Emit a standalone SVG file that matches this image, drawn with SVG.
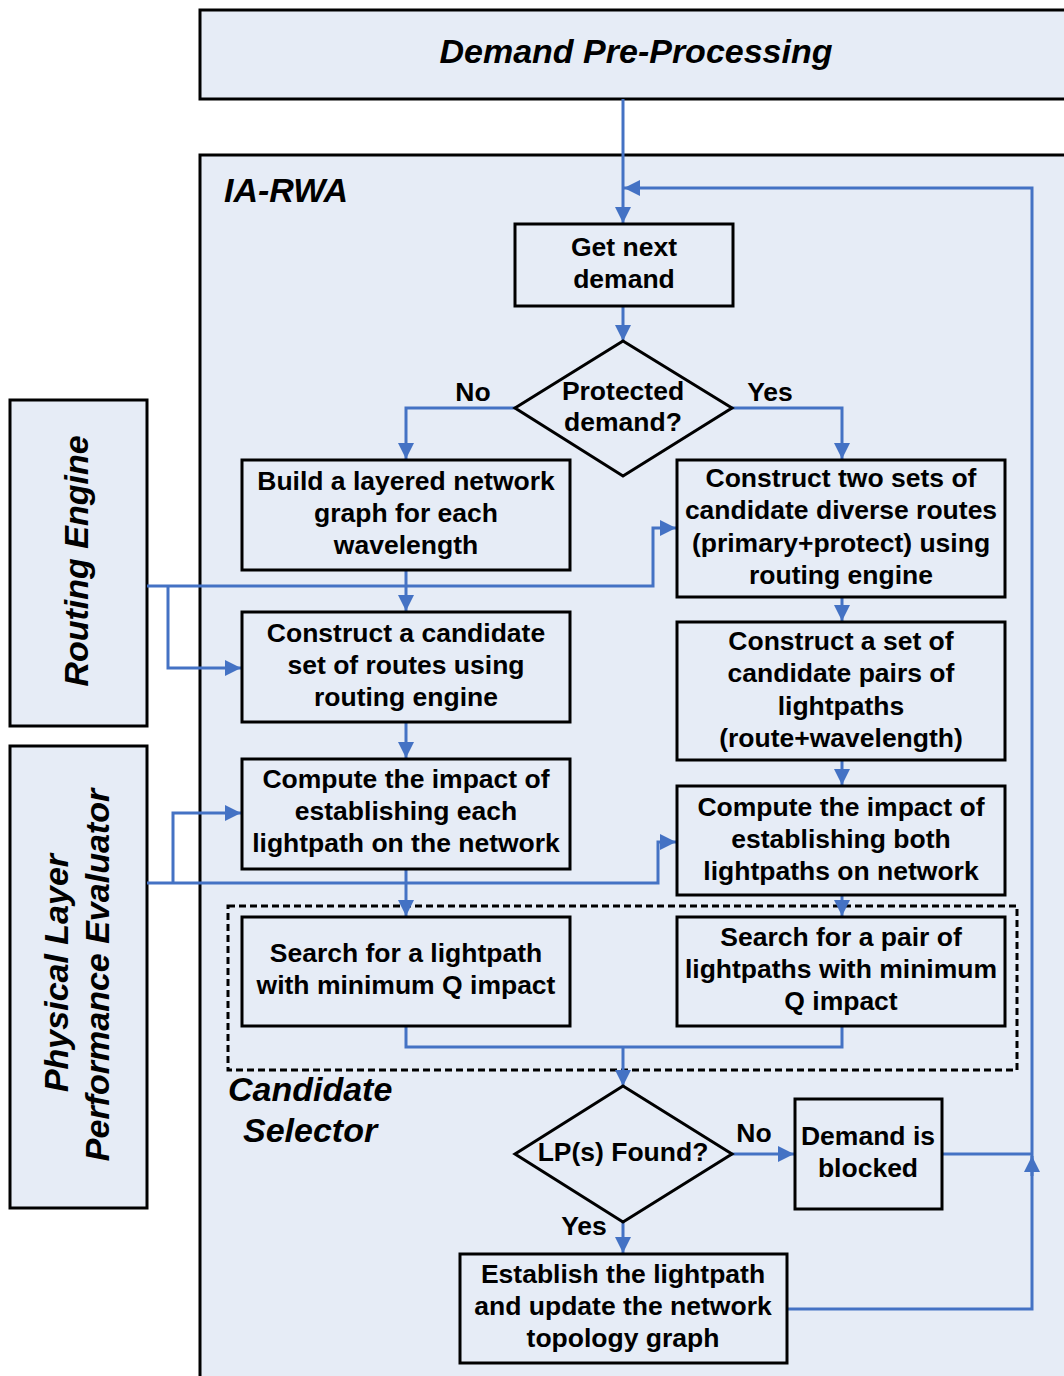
<svg xmlns="http://www.w3.org/2000/svg" width="1064" height="1376" viewBox="0 0 1064 1376">
<style>
.box{fill:#e6ecf6;stroke:#000;stroke-width:3}
.t{font-family:"Liberation Sans",Arial,sans-serif;font-weight:bold;font-size:26.5px;fill:#000;text-anchor:middle}
.ti{font-family:"Liberation Sans",Arial,sans-serif;font-weight:bold;font-style:italic;font-size:34px;fill:#000}
.c{fill:none;stroke:#4472c4;stroke-width:3}
.a{marker-end:url(#arr)}
</style>
<defs>
<marker id="arr" markerUnits="userSpaceOnUse" viewBox="0 0 16 16" refX="16" refY="8" markerWidth="16" markerHeight="16" orient="auto">
<path d="M0,0 L16,8 L0,16 Z" fill="#4472c4"/>
</marker>
</defs>
<rect width="1064" height="1376" fill="#fff"/>

<g id="preprocessing">
<rect class="box" x="200" y="10" width="900" height="89"/>
<text class="ti" x="636" y="63" text-anchor="middle">Demand Pre-Processing</text>
</g>
<g id="iarwa">
<rect class="box" x="200" y="155" width="900" height="1250"/>
<text class="ti" x="224" y="202">IA-RWA</text>
</g>
<g id="routing-engine">
<rect class="box" x="10" y="400" width="137" height="326"/>
<text class="ti" text-anchor="middle" transform="translate(88,561) rotate(-90)">Routing Engine</text>
</g>
<g id="physical-layer">
<rect class="box" x="10" y="746" width="137" height="462"/>
<text class="ti" text-anchor="middle" transform="translate(68,973) rotate(-90)">Physical Layer</text>
<text class="ti" text-anchor="middle" transform="translate(109,975) rotate(-90)">Performance Evaluator</text>
</g>
<g id="candidate-selector">
<rect x="228" y="906" width="789" height="164" fill="none" stroke="#000" stroke-width="3" stroke-dasharray="7,4"/>
<text class="ti" x="228" y="1101">Candidate</text>
<text class="ti" x="243" y="1142">Selector</text>
</g>

<g id="connectors">
<path class="c a" d="M623,99 V223"/>
<path class="c" d="M787,1309 H1032 V1172"/>
<path class="c a" d="M1032,1176 V1156"/>
<path class="c" d="M943,1154 H1032"/>
<path class="c a" d="M1032,1160 V188 H624"/>
<path class="c a" d="M623,306 V341"/>
<path class="c a" d="M515,408 H406 V459"/>
<path class="c a" d="M732,408 H842 V459"/>
<path class="c a" d="M406,570 V611"/>
<path class="c a" d="M842,597 V621"/>
<path class="c a" d="M147,586 H653 V528 H676"/>
<path class="c a" d="M168,586 V668 H241"/>
<path class="c a" d="M406,722 V758"/>
<path class="c a" d="M842,760 V785"/>
<path class="c a" d="M147,883 H658 V842 H676"/>
<path class="c a" d="M173,883 V813 H241"/>
<path class="c a" d="M406,869 V916"/>
<path class="c a" d="M842,895 V916"/>
<path class="c" d="M406,1026 V1047 H842 V1026"/>
<path class="c a" d="M623,1047 V1086"/>
<path class="c a" d="M732,1154 H794"/>
<path class="c a" d="M623,1222 V1253"/>
<text class="t" x="473" y="401">No</text>
<text class="t" x="770" y="401">Yes</text>
<text class="t" x="754" y="1142">No</text>
<text class="t" x="584" y="1235">Yes</text>
</g>

<g id="get-next-demand">
<rect class="box" x="515" y="224" width="218" height="82"/>
<text class="t" x="624" y="256">Get next</text>
<text class="t" x="624" y="288">demand</text>
</g>
<g id="protected-demand">
<polygon class="box" points="623,341 732,408 623,476 515,408"/>
<text class="t" x="623" y="400">Protected</text>
<text class="t" x="623" y="431">demand?</text>
</g>
<g id="build-layered">
<rect class="box" x="242" y="460" width="328" height="110"/>
<text class="t" x="406" y="490">Build a layered network</text>
<text class="t" x="406" y="522">graph for each</text>
<text class="t" x="406" y="554">wavelength</text>
</g>
<g id="construct-two-sets">
<rect class="box" x="677" y="460" width="328" height="137"/>
<text class="t" x="841" y="487">Construct two sets of</text>
<text class="t" x="841" y="519">candidate diverse routes</text>
<text class="t" x="841" y="552">(primary+protect) using</text>
<text class="t" x="841" y="584">routing engine</text>
</g>
<g id="construct-candidate">
<rect class="box" x="242" y="612" width="328" height="110"/>
<text class="t" x="406" y="642">Construct a candidate</text>
<text class="t" x="406" y="674">set of routes using</text>
<text class="t" x="406" y="706">routing engine</text>
</g>
<g id="construct-pairs">
<rect class="box" x="677" y="622" width="328" height="138"/>
<text class="t" x="841" y="650">Construct a set of</text>
<text class="t" x="841" y="682">candidate pairs of</text>
<text class="t" x="841" y="715">lightpaths</text>
<text class="t" x="841" y="747">(route+wavelength)</text>
</g>
<g id="compute-each">
<rect class="box" x="242" y="759" width="328" height="110"/>
<text class="t" x="406" y="788">Compute the impact of</text>
<text class="t" x="406" y="820">establishing each</text>
<text class="t" x="406" y="852">lightpath on the network</text>
</g>
<g id="compute-both">
<rect class="box" x="677" y="786" width="328" height="109"/>
<text class="t" x="841" y="816">Compute the impact of</text>
<text class="t" x="841" y="848">establishing both</text>
<text class="t" x="841" y="880">lightpaths on network</text>
</g>
<g id="search-single">
<rect class="box" x="242" y="917" width="328" height="109"/>
<text class="t" x="406" y="962">Search for a lightpath</text>
<text class="t" x="406" y="994">with minimum Q impact</text>
</g>
<g id="search-pair">
<rect class="box" x="677" y="917" width="328" height="109"/>
<text class="t" x="841" y="946">Search for a pair of</text>
<text class="t" x="841" y="978">lightpaths with minimum</text>
<text class="t" x="841" y="1010">Q impact</text>
</g>
<g id="lp-found">
<polygon class="box" points="623,1086 732,1154 623,1222 515,1154"/>
<text class="t" x="623" y="1161">LP(s) Found?</text>
</g>
<g id="demand-blocked">
<rect class="box" x="795" y="1099" width="147" height="110"/>
<text class="t" x="868" y="1145">Demand is</text>
<text class="t" x="868" y="1177">blocked</text>
</g>
<g id="establish">
<rect class="box" x="460" y="1254" width="327" height="109"/>
<text class="t" x="623" y="1283">Establish the lightpath</text>
<text class="t" x="623" y="1315">and update the network</text>
<text class="t" x="623" y="1347">topology graph</text>
</g>
</svg>
